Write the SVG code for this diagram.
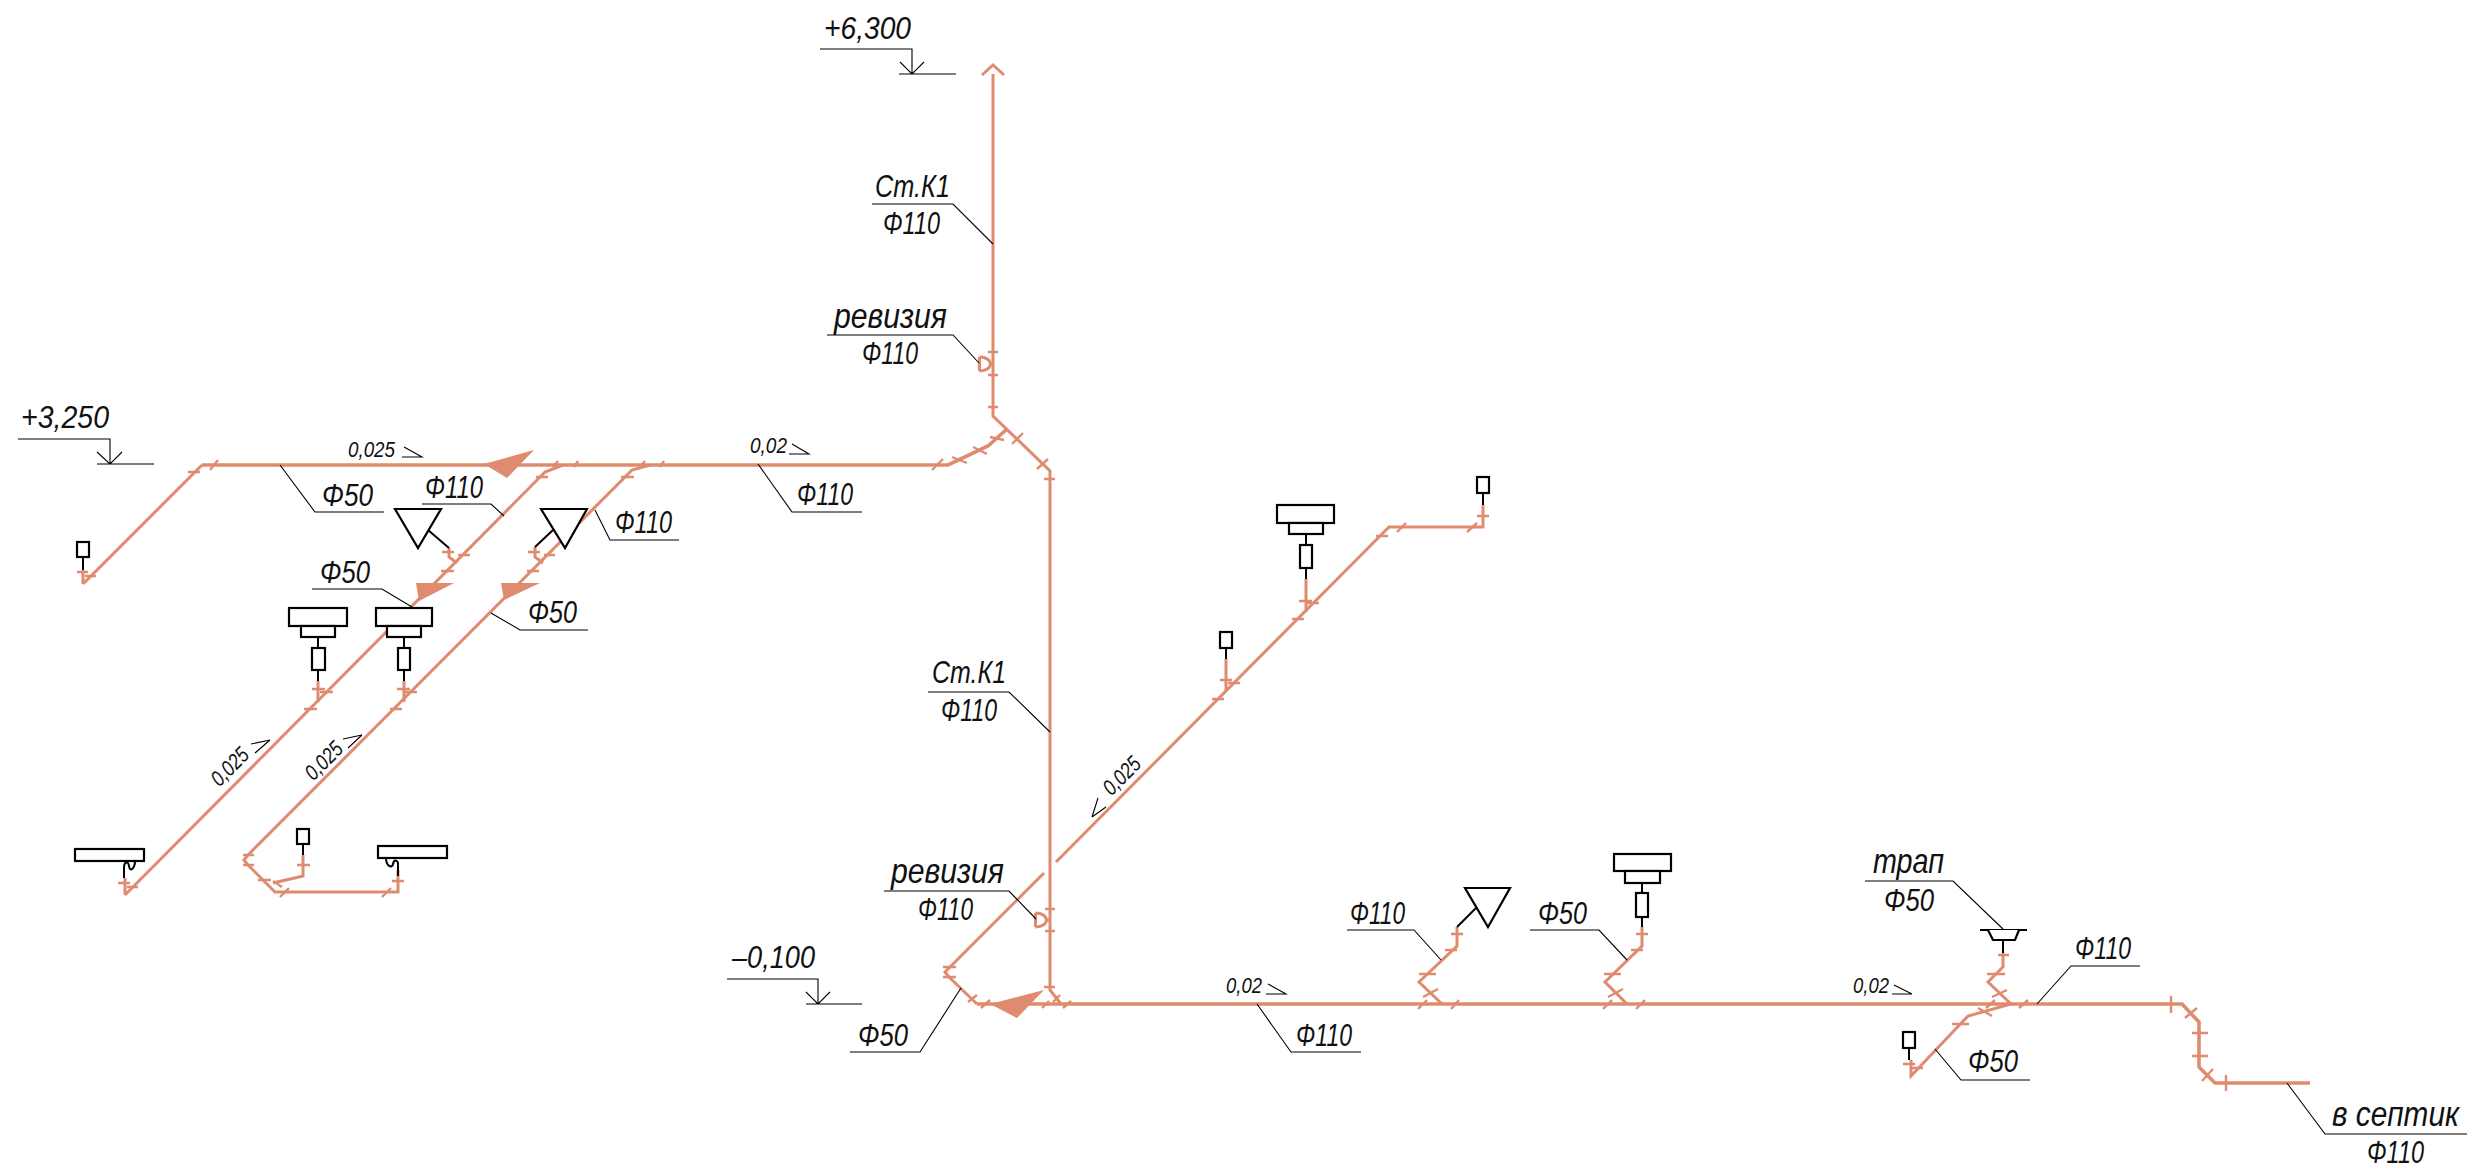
<svg xmlns="http://www.w3.org/2000/svg" width="2472" height="1169" viewBox="0 0 2472 1169">
<style>
text{font-family:"Liberation Sans",Arial,sans-serif;font-style:italic;fill:#111}
.l{font-size:32px}.m{font-size:35px}.s{font-size:22px}
.p{fill:none;stroke:#df8b70;stroke-width:3.6}
.d{fill:none;stroke:#df8b70;stroke-width:3}
.t{fill:none;stroke:#df8b70;stroke-width:2.4}
.a{fill:#df8b70;stroke:none}
.k{fill:none;stroke:#000;stroke-width:1.1}
.f{fill:#fff;stroke:#000;stroke-width:2.2}
.b{fill:none;stroke:#000;stroke-width:2}
</style>
<rect width="2472" height="1169" fill="#fff"/>
<g id="connectors">
<path class="p" d="M202 465H948L988 446L1007 429"/>
<path class="d" d="M83 584L202 465M83 584V570"/>
<path class="d" d="M993 74V416L1050 471V990L1061 1004"/>
<path class="d" d="M982 75L993 65L1004 75"/>
<path class="d" d="M125 895V878M125 895L545 472L563 465"/>
<path class="d" d="M248 855L632 470L650 465M248 855L244 860L248 865L275 892H398V870M273 883L303 876V855"/>
<path class="d" d="M449 548V557L457 563M535 547V557L543 563M318 681V702M404 681V702"/>
<path class="d" d="M1056 862L1389 527H1483V505M1306 579V612M1226 659V692"/>
<path class="d" d="M1044 873L950 967L945 972L949 977L977 1004"/>
<path class="p" d="M977 1004H2182L2199 1022V1067L2215 1083H2310"/>
<path class="d" d="M1457 927V946L1419 982L1442 1004M1642 927V946L1605 982L1627 1004M2003 953V967L1988 982L2011 1004L1968 1016L1911 1076V1060"/>
<path class="d" d="M979.5 357V371M979.5 357C994 357 994 371 979.5 371M989 364H993M1035.5 913V927M1035.5 913C1050 913 1050 927 1035.5 927M1046 920H1050"/>
<path class="t" d="M77 572H88M85 576H96M188 472H200M210 470L218 460"/>
<path class="t" d="M442 552H454M458 555H470M441 571H454M536 477H548M553 467L558 461M574 467L578 461M528 552H540M544 555H555M527 571H539M621 477H634M640 467L645 461M660 467L664 461"/>
<path class="t" d="M312 689H325M320 692H333M304 709H317M397 689H410M405 692H417M390 709H402M118 883H130M127 887H138"/>
<path class="t" d="M243 855H254M243 865H254M258 880H271M273 881L282 887M280 897L289 888M382 897L391 888M392 881H404M297 865H310"/>
<path class="t" stroke-width="1.5" d="M988 352H998M988 375H998M988 407H998M1044 479H1055"/>
<path class="t" d="M932 470L943 459M952 457L967 463M973 447L987 454M990 437L1004 440M1012 444L1023 433M1037 469L1048 459"/>
<path class="t" stroke-width="1.6" d="M1045 909H1055M1045 931H1055M1044 987H1055"/>
<path class="t" d="M943 967H956M943 977H956M968 1002L977 995M981 1008L990 1000M1042 1008L1049 1001M1063 1008L1071 1001M1053 1002L1060 995"/>
<path class="t" d="M1220 680H1232M1228 683H1240M1212 699H1224M1299 601H1312M1307 603H1319M1292 619H1304M1376 536H1388M1397 532L1406 523M1467 532L1477 523M1477 516H1489"/>
<path class="t" d="M1451 934H1463M1445 950H1457M1419 974H1436M1423 997L1438 989M1418 1009L1427 1000M1451 1009L1459 1000"/>
<path class="t" d="M1636 934H1648M1631 950H1643M1604 974H1621M1608 997L1623 989M1603 1009L1612 1000M1636 1009L1645 1000"/>
<path class="t" d="M1998 955H2009M1987 974H2005M1992 997L2007 990M1986 1008L1995 1000M2019 1008L2028 1000M1903 1064H1915M1912 1068H1923M1952 1024H1969M1978 1008L1992 1016"/>
<path class="t" d="M2171 996V1013M2185 1018L2197 1008M2192 1033H2208M2192 1056H2208M2202 1081L2213 1069M2226 1075V1091"/>
<path class="a" d="M534 450L484 464L507 478Z"/>
<path class="a" d="M454 583L416 583L419 601Z"/>
<path class="a" d="M540 583L501 583L504 600Z"/>
<path class="a" d="M1044 990L990 1004L1017 1018Z"/>
</g>
<g id="leaders">
<path class="k" d="M280 465L315 512H384M422 504H491L504 516M595 510L610 540H679M312 589H382L412 607M491 613L520 630H588"/>
<path class="k" d="M872 204H953L993 244M827 335H953L979 363M758 464L792 512H862M928 692H1009L1050 732"/>
<path class="k" d="M884 891H1009L1036 919M961 988L920 1052H850M1257 1004L1291 1052H1361"/>
<path class="k" d="M1347 930H1414L1441 960M1530 930H1599L1627 960M1865 881H1953L2003 929M2140 966H2071L2037 1004M1935 1049L1961 1080H2030M2287 1083L2325 1134H2467"/>
</g>
<g id="levels">
<path class="k" d="M18 439H110V464M97 464H154M97 452L110 464L122 452"/>
<path class="k" d="M820 49H912V74M899 74H956M900 62L912 74L924 62"/>
<path class="k" d="M727 979H818V1004M806 1004H862M806 992L818 1004L830 992"/>
<text class="l" x="21" y="428" textLength="88" lengthAdjust="spacingAndGlyphs">+3,250</text>
<text class="l" x="824" y="39" textLength="87" lengthAdjust="spacingAndGlyphs">+6,300</text>
<text class="l" x="732" y="968" textLength="83" lengthAdjust="spacingAndGlyphs">–0,100</text>
</g>
<g id="slopes">
<path class="k" d="M404 447L422 457H402M270 740L251 744M270 740L255 753M362 735L343 739M362 735L348 748"/>
<path class="k" d="M792 444L809 454H789M1268 984L1286 994H1266M1894 985L1912 994H1892M1092 817L1098 798M1092 817L1106 807"/>
<text class="s" x="348" y="457" textLength="47" lengthAdjust="spacingAndGlyphs">0,025</text>
<text class="s" x="750" y="453" textLength="37" lengthAdjust="spacingAndGlyphs">0,02</text>
<text class="s" x="1226" y="993" textLength="36" lengthAdjust="spacingAndGlyphs">0,02</text>
<text class="s" x="1853" y="993" textLength="36" lengthAdjust="spacingAndGlyphs">0,02</text>
<text class="s" x="230" y="774" text-anchor="middle" transform="rotate(-45 230 767)" textLength="44" lengthAdjust="spacingAndGlyphs">0,025</text>
<text class="s" x="324" y="768" text-anchor="middle" transform="rotate(-45 324 761)" textLength="44" lengthAdjust="spacingAndGlyphs">0,025</text>
<text class="s" x="1122" y="783" text-anchor="middle" transform="rotate(-45 1122 776)" textLength="44" lengthAdjust="spacingAndGlyphs">0,025</text>
</g>
<g id="pipe-labels">
<text class="l" x="322" y="506" textLength="51" lengthAdjust="spacingAndGlyphs">Φ50</text>
<text class="l" x="425" y="498" textLength="58" lengthAdjust="spacingAndGlyphs">Φ110</text>
<text class="l" x="615" y="533" textLength="57" lengthAdjust="spacingAndGlyphs">Φ110</text>
<text class="l" x="320" y="583" textLength="50" lengthAdjust="spacingAndGlyphs">Φ50</text>
<text class="l" x="528" y="623" textLength="49" lengthAdjust="spacingAndGlyphs">Φ50</text>
<text class="l" x="875" y="197" textLength="75" lengthAdjust="spacingAndGlyphs">Ст.К1</text>
<text class="l" x="883" y="234" textLength="57" lengthAdjust="spacingAndGlyphs">Φ110</text>
<text class="m" x="834" y="328" textLength="113" lengthAdjust="spacingAndGlyphs">ревизия</text>
<text class="l" x="862" y="364" textLength="56" lengthAdjust="spacingAndGlyphs">Φ110</text>
<text class="l" x="797" y="505" textLength="56" lengthAdjust="spacingAndGlyphs">Φ110</text>
<text class="l" x="932" y="683" textLength="74" lengthAdjust="spacingAndGlyphs">Ст.К1</text>
<text class="l" x="941" y="721" textLength="56" lengthAdjust="spacingAndGlyphs">Φ110</text>
<text class="m" x="891" y="883" textLength="113" lengthAdjust="spacingAndGlyphs">ревизия</text>
<text class="l" x="918" y="920" textLength="55" lengthAdjust="spacingAndGlyphs">Φ110</text>
<text class="l" x="858" y="1046" textLength="50" lengthAdjust="spacingAndGlyphs">Φ50</text>
<text class="l" x="1296" y="1046" textLength="56" lengthAdjust="spacingAndGlyphs">Φ110</text>
<text class="l" x="1350" y="924" textLength="55" lengthAdjust="spacingAndGlyphs">Φ110</text>
<text class="l" x="1538" y="924" textLength="49" lengthAdjust="spacingAndGlyphs">Φ50</text>
<text class="m" x="1873" y="873" textLength="71" lengthAdjust="spacingAndGlyphs">трап</text>
<text class="l" x="1884" y="911" textLength="50" lengthAdjust="spacingAndGlyphs">Φ50</text>
<text class="l" x="2075" y="959" textLength="56" lengthAdjust="spacingAndGlyphs">Φ110</text>
<text class="l" x="1968" y="1072" textLength="50" lengthAdjust="spacingAndGlyphs">Φ50</text>
<text class="m" x="2332" y="1126" textLength="127" lengthAdjust="spacingAndGlyphs">в септик</text>
<text class="l" x="2367" y="1163" textLength="57" lengthAdjust="spacingAndGlyphs">Φ110</text>
</g>
<g id="tap-1"><rect class="f" x="77" y="542" width="12" height="15"/><path class="b" d="M83 557V570"/></g>
<g id="funnel-1"><path class="f" d="M395 509H441L418 548Z"/><path class="b" d="M428 530L449 548"/></g>
<g id="funnel-2"><path class="f" d="M541 509H587L565 548Z"/><path class="b" d="M553 530L535 547"/></g>
<g id="basin-1"><rect class="f" x="289" y="608" width="58" height="18"/><rect class="f" x="301" y="626" width="34" height="11"/><rect class="f" x="312" y="648" width="13" height="22"/><path class="b" d="M318 637V648M318 670V681"/></g>
<g id="basin-2"><rect class="f" x="376" y="608" width="56" height="18"/><rect class="f" x="387" y="626" width="34" height="11"/><rect class="f" x="398" y="648" width="12" height="22"/><path class="b" d="M404 637V648M404 670V681"/></g>
<g id="bath-1"><rect class="f" x="75" y="849" width="69" height="12"/><path class="b" d="M135 861C135 868 130 873 129 866C128 860 124 862 124 868V878"/></g>
<g id="bath-2"><rect class="f" x="378" y="846" width="69" height="12"/><path class="b" d="M386 858C386 866 392 869 393 864C394 859 398 860 398 864V876"/></g>
<g id="tap-2"><rect class="f" x="297" y="829" width="12" height="15"/><path class="b" d="M303 844V855"/></g>
<g id="tap-3"><rect class="f" x="1220" y="632" width="12" height="16"/><path class="b" d="M1226 648V659"/></g>
<g id="basin-3"><rect class="f" x="1277" y="505" width="57" height="18"/><rect class="f" x="1289" y="523" width="34" height="11"/><rect class="f" x="1300" y="545" width="12" height="23"/><path class="b" d="M1306 534V545M1306 568V579"/></g>
<g id="tap-4"><rect class="f" x="1477" y="477" width="12" height="16"/><path class="b" d="M1483 493V505"/></g>
<g id="funnel-3"><path class="f" d="M1465 888H1510L1488 927Z"/><path class="b" d="M1476 908L1457 927"/></g>
<g id="basin-4"><rect class="f" x="1614" y="854" width="57" height="17"/><rect class="f" x="1625" y="871" width="35" height="12"/><rect class="f" x="1636" y="893" width="12" height="24"/><path class="b" d="M1642 883V893M1642 917V927"/></g>
<g id="floor-drain"><path class="b" d="M1980 930H2027"/><path class="f" d="M1988 930L1993 940H2015L2019 930"/><path class="b" d="M2003 940V953"/></g>
<g id="tap-5"><rect class="f" x="1903" y="1032" width="12" height="16"/><path class="b" d="M1909 1048V1060"/></g>
</svg>
